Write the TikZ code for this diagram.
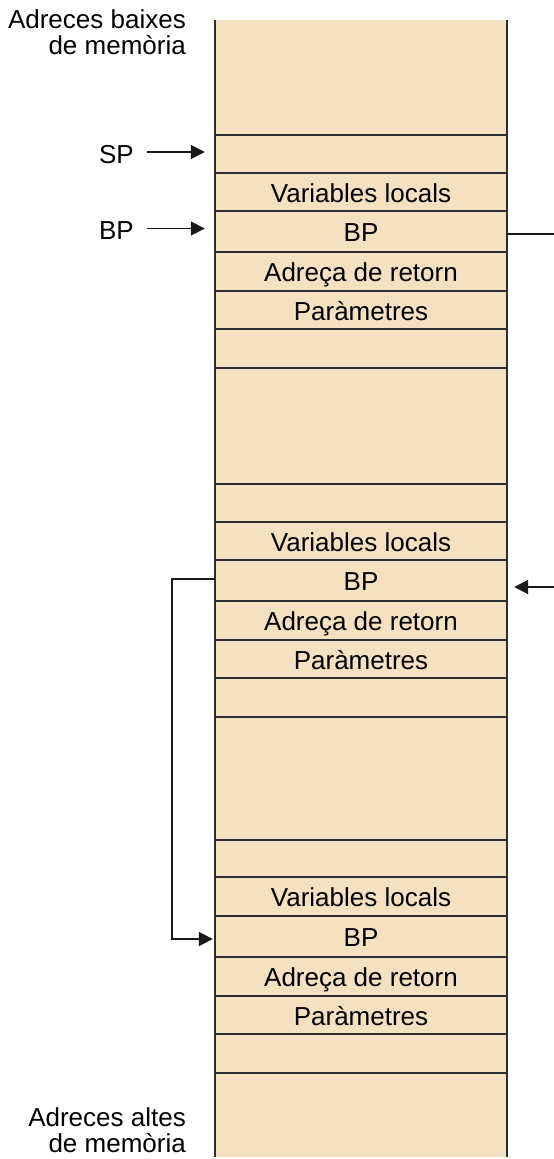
\documentclass[tikz,border=0pt]{standalone}
\usepackage{fontspec}
\setmainfont{Liberation Sans}
\usetikzlibrary{arrows.meta}
\definecolor{cellfill}{RGB}{244,225,193}
\definecolor{rule}{RGB}{45,45,45}
\definecolor{wire}{RGB}{25,25,25}
\begin{document}
\begin{tikzpicture}[x=1bp,y=-1bp,
  every node/.style={font=\fontsize{26bp}{26bp}\selectfont},
  cell/.style={rectangle,fill=cellfill,inner sep=0pt,minimum width=292bp,
    text height=25bp,text depth=5bp},
  sep/.style={draw=rule,line width=2bp},
  border/.style={draw=rule,line width=2.5bp},
  link/.style={draw=wire,line width=1.8bp},
  ptr/.style={link,-{Triangle[length=14bp,width=14bp]}},
  side/.style={align=right,anchor=base east,inner sep=0pt}]
\useasboundingbox (0,0) rectangle (554,1159);

% stack cells, top to bottom: name/top/bottom/text
\foreach \n/\t/\b/\txt in {
  0/20/135/{}, 1/135/173/{}, 2/173/211/{Variables locals}, 3/211/252/{BP},
  4/252/291/{Adreça de retorn}, 5/291/329/{Paràmetres}, 6/329/368/{},
  7/368/484/{}, 8/484/522/{}, 9/522/560/{Variables locals}, 10/560/601/{BP},
  11/601/640/{Adreça de retorn}, 12/640/678/{Paràmetres}, 13/678/717/{},
  14/717/840/{}, 15/840/877/{}, 16/877/916/{Variables locals}, 17/916/957/{BP},
  18/957/996/{Adreça de retorn}, 19/996/1034/{Paràmetres}, 20/1034/1073/{},
  21/1073/1157/{}}
  \node[cell,minimum height={(\b-\t)*1bp}] (r\n) at (361,{(\t+\b)/2}) {\txt};

% separators between cells
\foreach \n in {1,...,21}
  \draw[sep] (r\n.north west) -- (r\n.north east);

% side walls of the stack
\draw[border] (r0.north west) -- (r21.south west);
\draw[border] (r0.north east) -- (r21.south east);

% address labels
\node[side] (low) at (186,54) {Adreces baixes\\de memòria};
\node[side] (high) at (186,1152) {Adreces altes\\de memòria};

% stack and base pointers
\node[side] (sp) at (134,163) {SP};
\node[side] (bp) at (134,239) {BP};
\draw[ptr] ([xshift=-68bp,yshift=2bp]r1.west) -- ([xshift=-10bp,yshift=2bp]r1.west);
\draw[ptr] ([xshift=-68bp,yshift=3bp]r3.west) -- ([xshift=-10bp,yshift=3bp]r3.west);

% saved BP chain
\draw[link] ([yshift=-2.5bp]r3.east) -- ++(48,0);
\draw[ptr] ([xshift=48bp,yshift=-6.5bp]r10.east) -- ([xshift=7bp,yshift=-6.5bp]r10.east);
\draw[ptr] ([yshift=1.5bp]r10.west) -- ++(-43,0) |- ([xshift=-2bp,yshift=-2.5bp]r17.west);
\end{tikzpicture}
\end{document}
